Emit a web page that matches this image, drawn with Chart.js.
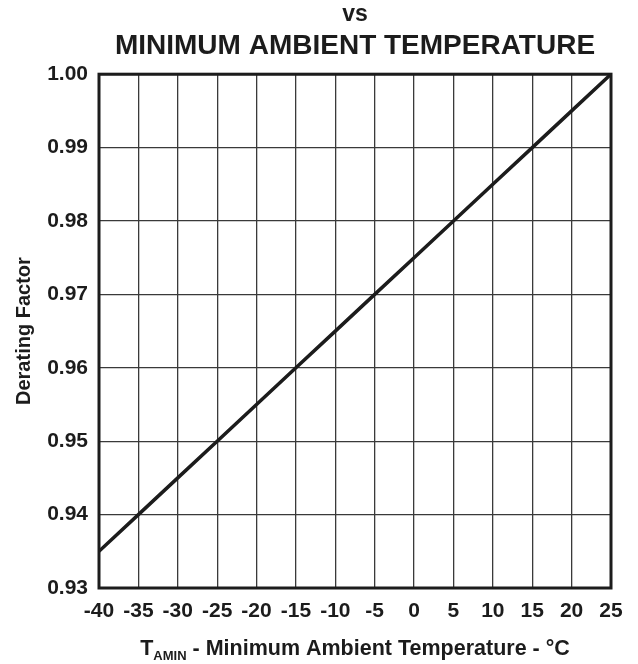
<!DOCTYPE html>
<html>
<head>
<meta charset="utf-8">
<script src="https://cdn.jsdelivr.net/npm/chart.js@4"></script>
<style>
  html, body { margin: 0; padding: 0; background: #fff; }
  #wrap { width: 638px; height: 664px; }
</style>
</head>
<body>
<div id="wrap"><canvas id="chart" width="638" height="664"></canvas></div>
<script>
// Data
const temps = [-40, -35, -30, -25, -20, -15, -10, -5, 0, 5, 10, 15, 20, 25];
const derating = [0.935, 0.940, 0.945, 0.950, 0.955, 0.960, 0.965, 0.970, 0.975, 0.980, 0.985, 0.990, 0.995, 1.000];
const xTicks = [-40, -35, -30, -25, -20, -15, -10, -5, 0, 5, 10, 15, 20, 25];
const yTicks = [0.93, 0.94, 0.95, 0.96, 0.97, 0.98, 0.99, 1.00];

const ink = "#1c1c1c";
const fontFam = "'Liberation Sans', Arial, Helvetica, sans-serif";

// frame around the plot + x-axis title with subscript
const framePlugin = {
  id: "frame",
  afterDraw(chart) {
    const { ctx, chartArea: a } = chart;
    ctx.save();
    ctx.strokeStyle = ink;
    ctx.lineWidth = 3;
    ctx.strokeRect(a.left, a.top, a.right - a.left, a.bottom - a.top);

    // T_AMIN - Minimum Ambient Temperature - °C
    const big = "bold 21.5px " + fontFam;
    const small = "bold 13px " + fontFam;
    const rest = " - Minimum Ambient Temperature - \u00B0C";
    ctx.fillStyle = ink;
    ctx.textBaseline = "alphabetic";
    ctx.font = big;
    const wT = ctx.measureText("T").width;
    const wR = ctx.measureText(rest).width;
    ctx.font = small;
    const wS = ctx.measureText("AMIN").width;
    let x = (a.left + a.right) / 2 - (wT + wS + wR) / 2;
    const y = 655;
    ctx.font = big;
    ctx.fillText("T", x, y);
    x += wT;
    ctx.font = small;
    ctx.fillText("AMIN", x, y + 5);
    x += wS;
    ctx.font = big;
    ctx.fillText(rest, x, y);
    ctx.restore();
  }
};

new Chart(document.getElementById("chart"), {
  type: "line",
  data: {
    datasets: [{
      data: temps.map((t, i) => ({ x: t, y: derating[i] })),
      borderColor: ink,
      borderWidth: 3.5,
      pointRadius: 0,
      tension: 0,
      fill: false
    }]
  },
  options: {
    responsive: false,
    animation: false,
    layout: { padding: { left: 0, right: 27, top: 0, bottom: 0 } },
    plugins: {
      legend: { display: false },
      tooltip: { enabled: false },
      title: {
        display: true,
        text: "vs",
        fullSize: false,
        color: ink,
        font: { family: fontFam, size: 23, weight: "bold" },
        padding: { top: 1, bottom: 1 }
      },
      subtitle: {
        display: true,
        text: "MINIMUM AMBIENT TEMPERATURE",
        fullSize: false,
        color: ink,
        font: { family: fontFam, size: 28, weight: "bold" },
        padding: { top: 0, bottom: 11 }
      }
    },
    scales: {
      x: {
        type: "linear",
        min: -40,
        max: 25,
        afterBuildTicks: (s) => { s.ticks = xTicks.map(v => ({ value: v })); },
        afterFit: (s) => { s.height = 76; },
        ticks: {
          color: ink,
          padding: 11,
          maxRotation: 0,
          font: { family: fontFam, size: 21, weight: "bold" }
        },
        grid: { color: "#3a3a3a", lineWidth: 1.3, drawTicks: false },
        border: { display: false }
      },
      y: {
        min: 0.93,
        max: 1.00,
        afterBuildTicks: (s) => { s.ticks = yTicks.map(v => ({ value: v })); },
        afterFit: (s) => { s.width = 99; },
        ticks: {
          color: ink,
          padding: 11,
          font: { family: fontFam, size: 21, weight: "bold" },
          callback: (v) => Number(v).toFixed(2)
        },
        title: {
          display: true,
          text: "Derating Factor",
          color: ink,
          font: { family: fontFam, size: 20, weight: "bold" },
          padding: { top: 12, bottom: 0 }
        },
        grid: { color: "#3a3a3a", lineWidth: 1.3, drawTicks: false },
        border: { display: false }
      }
    }
  },
  plugins: [framePlugin]
});
</script>
</body>
</html>
